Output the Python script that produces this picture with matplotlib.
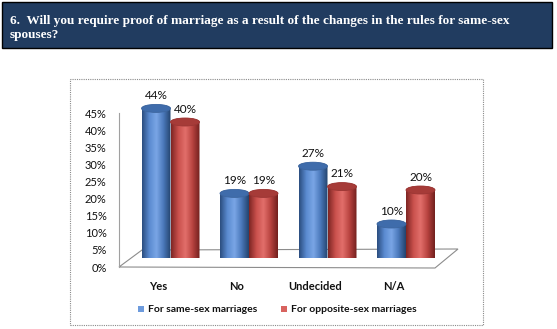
import numpy as np
import matplotlib
matplotlib.use("Agg")
import matplotlib.pyplot as plt
from matplotlib.patches import Rectangle, Ellipse, Polygon, PathPatch
from matplotlib.path import Path
from matplotlib.colors import LinearSegmentedColormap

# data
categories = ["Yes", "No", "Undecided", "N/A"]
same_sex = [44, 19, 27, 10]
opposite_sex = [40, 19, 21, 20]
series_names = ["For same-sex marriages", "For opposite-sex marriages"]
yticks = [0, 5, 10, 15, 20, 25, 30, 35, 40, 45]
title = ("6.  Will you require proof of marriage as a result of the changes in the rules for same-sex",
         "spouses?")

W, H = 557, 329
fig = plt.figure(figsize=(W / 100, H / 100), dpi=100)
fig.patch.set_facecolor("white")


def fx(px):
    return px / W


def fy(py):
    return 1 - py / H


# title box
fig.add_artist(Rectangle((fx(2), fy(48)), fx(550), 46 / H, transform=fig.transFigure,
                         facecolor="#213c60", edgecolor="black", lw=1))
fig.text(fx(10), fy(24), title[0], color="white", fontsize=9.5, fontweight="bold",
         family="Liberation Serif", va="baseline")
fig.text(fx(10), fy(38), title[1], color="white", fontsize=9.5, fontweight="bold",
         family="Liberation Serif", va="baseline")

# chart frame
fig.add_artist(Rectangle((fx(70), fy(325)), fx(413), 246 / H, transform=fig.transFigure,
                         facecolor="none", edgecolor="#8a8a8a", lw=0.8, ls=(0, (1, 1))))

# front plane axes (axis, floor, category labels)
axf = fig.add_axes([fx(119), fy(267), fx(316), 154 / H])
axf.set_xlim(-0.5, 3.52)
axf.set_ylim(0, 45)
axf.patch.set_alpha(0)
for s in ["top", "right", "bottom"]:
    axf.spines[s].set_visible(False)
axf.spines["left"].set_color("#a0a0a0")
axf.spines["left"].set_linewidth(0.8)
axf.set_yticks(yticks)
axf.set_yticklabels([f"{t}%" for t in yticks], family="Lato", fontsize=8, color="#111111")
axf.tick_params(axis="y", length=0, pad=9)
axf.set_xticks(range(len(categories)))
axf.set_xticklabels(categories, family="Lato", fontsize=8, fontweight="bold", color="#111111")
axf.tick_params(axis="x", length=0, pad=10)
floor = Polygon([(0, 0), (23 / 316, 17 / 154), (339 / 316, 18 / 154), (316 / 316, -1 / 154)],
                closed=True, transform=axf.transAxes, facecolor="white",
                edgecolor="#8c8c8c", lw=0.8, clip_on=False)
axf.add_patch(floor)

# back plane axes (bars)
ax = fig.add_axes([fx(131.25), fy(258), fx(314), 170 / H])
ax.set_xlim(-0.5, 3.5)
ax.set_ylim(0, 50)
ax.axis("off")

bw = 29 / 78.5
off = 14.5 / 78.5
eh = 8 / 3.4

blue = LinearSegmentedColormap.from_list("b", ["#2b4e80", "#5a8ad0", "#7aa6e6", "#4a78ba", "#24446e"])
red = LinearSegmentedColormap.from_list("r", ["#7e2624", "#c9504c", "#e26f6b", "#b8433f", "#72201e"])
caps = ["#3f6cab", "#a63b38"]
grad = np.linspace(0, 1, 64).reshape(1, -1)


def cylinder(xc, v, cmap, cap):
    x0, x1 = xc - bw / 2, xc + bw / 2
    t = np.linspace(np.pi, 2 * np.pi, 40)
    bot = np.column_stack([xc + bw / 2 * np.cos(t), eh / 2 * np.sin(t)])
    t2 = np.linspace(0, np.pi, 40)
    top = np.column_stack([xc + bw / 2 * np.cos(t2), v + eh / 2 * np.sin(t2)])
    verts = np.vstack([[[x0, v]], bot, [[x1, v]], top])
    patch = PathPatch(Path(verts), facecolor="none", edgecolor="none", transform=ax.transData)
    ax.add_patch(patch)
    im = ax.imshow(grad, cmap=cmap, extent=[x0, x1, -eh, v + eh], aspect="auto",
                   interpolation="bilinear", zorder=2)
    im.set_clip_path(patch)
    ax.add_patch(Ellipse((xc, v), bw, eh, facecolor=cap, edgecolor=cmap(0.1), lw=0.6, zorder=3))
    ax.text(xc, v + eh / 2 + 1.0, f"{v}%", ha="center", va="bottom", family="Lato",
            fontsize=8.5, color="#111111", zorder=4)


for i in range(len(categories)):
    cylinder(i - off, same_sex[i], blue, caps[0])
    cylinder(i + off, opposite_sex[i], red, caps[1])
ax.set_xlim(-0.5, 3.5)
ax.set_ylim(0, 50)

# legend
for px, name, cmap in [(138, series_names[0], blue), (281, series_names[1], red)]:
    fig.add_artist(Rectangle((fx(px), fy(312)), fx(6), 6 / H, transform=fig.transFigure,
                             facecolor=cmap(0.4), edgecolor="none"))
    fig.text(fx(px + 10), fy(309), name, family="Lato", fontsize=7.5, fontweight="bold",
             color="#111111", va="center")

fig.savefig("out.png", dpi=100)
